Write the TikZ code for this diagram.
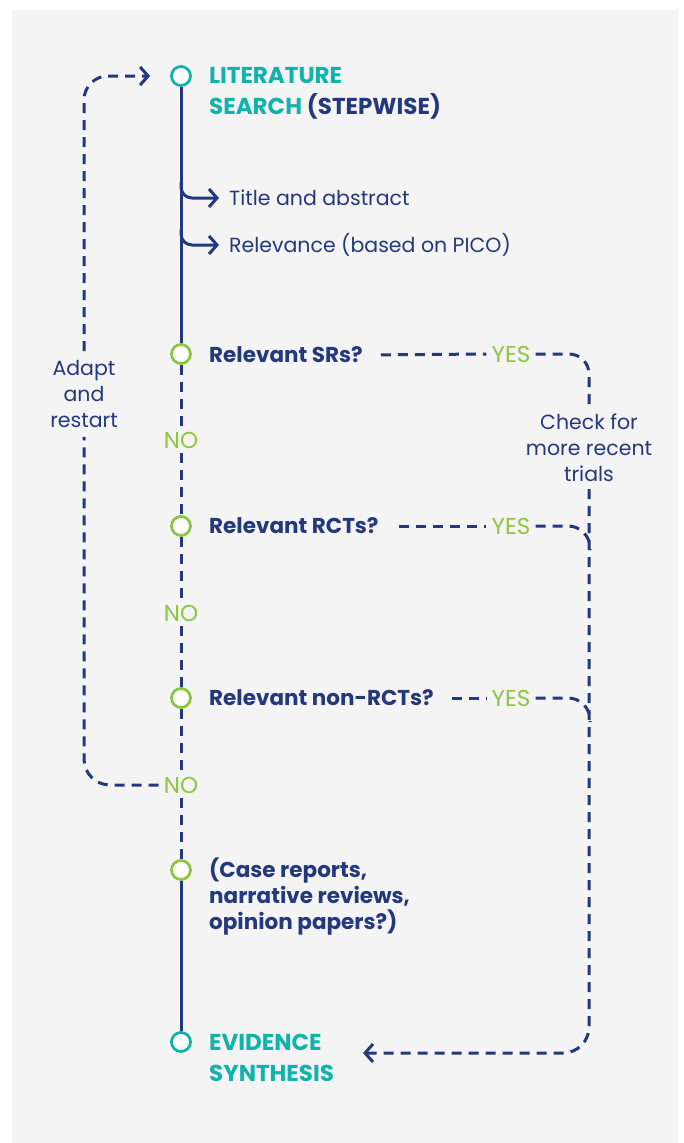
\documentclass[tikz,border=0pt]{standalone}
\usepackage{fontspec}
\setmainfont{Poppins}
\usetikzlibrary{arrows.meta}
\definecolor{stepnavy}{RGB}{36,56,125}
\definecolor{stepteal}{RGB}{16,178,172}
\definecolor{stepgreen}{RGB}{141,198,63}
\definecolor{panelgray}{RGB}{244,244,244}

\begin{document}
\begin{tikzpicture}[x=1pt, y=1pt,
  every node/.style={font=\fontsize{20.5}{26}\selectfont, text=stepnavy},
  flow/.style={stepnavy, line width=3pt},
  dashflow/.style={stepnavy, line width=3pt, dash pattern=on 10pt off 7pt},
  chevron/.style={-{Straight Barb[length=8pt, width=18pt]}},
  endpoint/.style={circle, draw=stepteal, line width=2.8pt, fill=white, minimum size=19pt, inner sep=0pt},
  question/.style={circle, draw=stepgreen, line width=2.8pt, fill=white, minimum size=19pt, inner sep=0pt},
  qtext/.style={anchor=west, inner sep=0pt, align=left, font=\bfseries\fontsize{21.5}{26}\selectfont},
  heading/.style={anchor=west, inner sep=0pt, align=left, font=\bfseries\fontsize{23}{31}\selectfont},
  answer/.style={text=stepgreen, inner sep=5pt, font=\fontsize{23}{26}\selectfont}]
\useasboundingbox (0,0) rectangle (684,-1143);
\fill[panelgray] (12,-10) rectangle (678,-1143);

% steps on the main line
\node [endpoint] (search) at (181,-76) {};
\node [question] (srs) at (181,-354) {};
\node [question] (rcts) at (181,-526) {};
\node [question] (nonrcts) at (181,-698) {};
\node [question] (cases) at (181,-870) {};
\node [endpoint] (synth) at (181,-1042) {};

\node [heading] (searchtxt) at (209,-93)
  {\textcolor{stepteal}{LITERATURE}\\ \textcolor{stepteal}{SEARCH} (STEPWISE)};
\node [anchor=west, inner sep=0pt] (title) at (229,-198) {Title and abstract};
\node [anchor=west, inner sep=0pt] (relevance) at (229,-245) {Relevance (based on PICO)};
\node [qtext] (srstxt) at (209,-355) {Relevant SRs?};
\node [qtext] (rctstxt) at (209,-526) {Relevant RCTs?};
\node [qtext] (nonrctstxt) at (209,-698) {Relevant non-RCTs?};
\node [qtext] (casestxt) at (209,-897) {(Case reports,\\ narrative reviews,\\ opinion papers?)};
\node [heading, text=stepteal] (synthtxt) at (209,-1058) {EVIDENCE\\ SYNTHESIS};

\node [answer] (no1) at (181,-440) {NO};
\node [answer] (no2) at (181,-613) {NO};
\node [answer] (no3) at (181,-785) {NO};
\node [answer] (yes1) at (511,-354) {YES};
\node [answer] (yes2) at (511,-526) {YES};
\node [answer] (yes3) at (511,-698) {YES};

\node [align=center, inner sep=7pt] (check) at (589,-448) {Check for\\ more recent\\ trials};
\node [align=center, inner sep=9pt] (adapt) at (84,-394) {Adapt\\ and\\ restart};

\coordinate (m2) at (590,-550);
\coordinate (m3) at (590,-722);
\coordinate (into) at (363,-1053);
\coordinate (b1) at (181,-182);
\coordinate (b2) at (181,-229);

% main line
\draw [flow] (search) -- (srs);
\draw [dashflow] (srs) -- (no1) (no1) -- (rcts) (rcts) -- (no2) (no2) -- (nonrcts)
  (nonrcts) -- (no3) (no3) -- (cases);
\draw [flow] (cases) -- (synth);
\draw [flow, chevron, rounded corners=11pt, shorten >=10pt] (b1) |- (title.west);
\draw [flow, chevron, rounded corners=11pt, shorten >=10pt] (b2) |- (relevance.west);

% yes branches
\draw [dashflow, shorten <=18pt] (srstxt.east) -- (yes1.west);
\draw [dashflow, shorten <=20pt] (rctstxt.east) -- (yes2.west);
\draw [dashflow, shorten <=18pt] (nonrctstxt.east) -- (yes3.west);
\draw [dashflow, rounded corners=20pt] (yes1.east) -| (check.north);
\draw [dashflow, rounded corners=22pt] (yes2.east) -| (m2);
\draw [dashflow, rounded corners=22pt] (yes3.east) -| (m3);
\draw [dashflow, chevron, rounded corners=26pt] (check.south) |- (into);

% back to the start
\draw [dashflow, rounded corners=26pt] (no3.west) -| (adapt.south);
\draw [dashflow, chevron, rounded corners=24pt, shorten >=20pt] (adapt.north) |- (search.west);
\end{tikzpicture}
\end{document}
